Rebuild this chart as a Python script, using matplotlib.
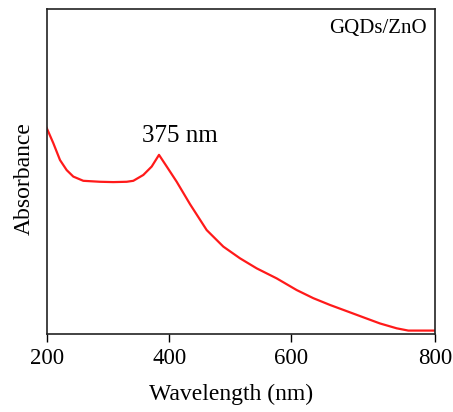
import numpy as np
import matplotlib
matplotlib.use("Agg")
import matplotlib.pyplot as plt

# ---- data ----
wavelength = [200, 210.8, 221.7, 232.6, 243.4, 259.7, 287, 308.6, 330.5, 341.3,
              357.6, 371.3, 383.2, 395.8, 412.2, 434.1, 461.6, 489, 516.4, 543.9,
              576.9, 608.3, 631.3, 654.5, 677.6, 700.6, 723.7, 746.9, 763, 800]
absorbance = [0.634, 0.587, 0.535, 0.504, 0.484, 0.471, 0.468, 0.467, 0.468, 0.471,
              0.489, 0.515, 0.551, 0.515, 0.468, 0.399, 0.319, 0.268, 0.232, 0.201,
              0.170, 0.134, 0.109, 0.088, 0.069, 0.050, 0.031, 0.016, 0.009, 0.009]
xticks = [200, 400, 600, 800]
# relative on-screen positions of the reference's (unevenly spaced) x ticks
tick_pos = [0, 122.6, 244.0, 388.3]

plt.rcParams['font.family'] = ['Liberation Serif', 'DejaVu Serif']

fig = plt.figure(figsize=(4.53, 4.12), dpi=100)
ax = fig.add_axes([46.7/453, 1-333.5/412, 388.3/453, 324.2/412])

fwd = lambda x: np.interp(x, xticks, tick_pos)
inv = lambda p: np.interp(p, tick_pos, xticks)
ax.set_xscale('function', functions=(fwd, inv))

ax.plot(wavelength, absorbance, color='#ff1a1a', lw=1.6)

ax.set_xlim(200, 800)
ax.set_ylim(0, 1.0)
ax.set_xticks(xticks)
ax.set_xticklabels([str(t) for t in xticks])
ax.xaxis.set_minor_locator(matplotlib.ticker.NullLocator())
ax.set_yticks([])
ax.tick_params(axis='x', direction='out', length=5.8, width=1.0, pad=5.0,
               labelsize=16.5)
for s in ax.spines.values():
    s.set_linewidth(1.2)
    s.set_color('#222222')

ax.set_xlabel('Wavelength (nm)', fontsize=17, va='center')
ax.xaxis.set_label_coords(0.475, (333.5-394)/324.2)
ax.set_ylabel('Absorbance', fontsize=17, va='center')
ax.yaxis.set_label_coords((24-46.7)/388.3, (333.5-179)/324.2)

ax.text(355, (333.5-141.7)/324.2, '375 nm', fontsize=18, ha='left', va='baseline')
ax.text((426.7-46.7)/388.3, (333.5-33)/324.2, 'GQDs/ZnO', fontsize=15,
        ha='right', va='baseline', transform=ax.transAxes)

fig.savefig('out.png', dpi=100)
